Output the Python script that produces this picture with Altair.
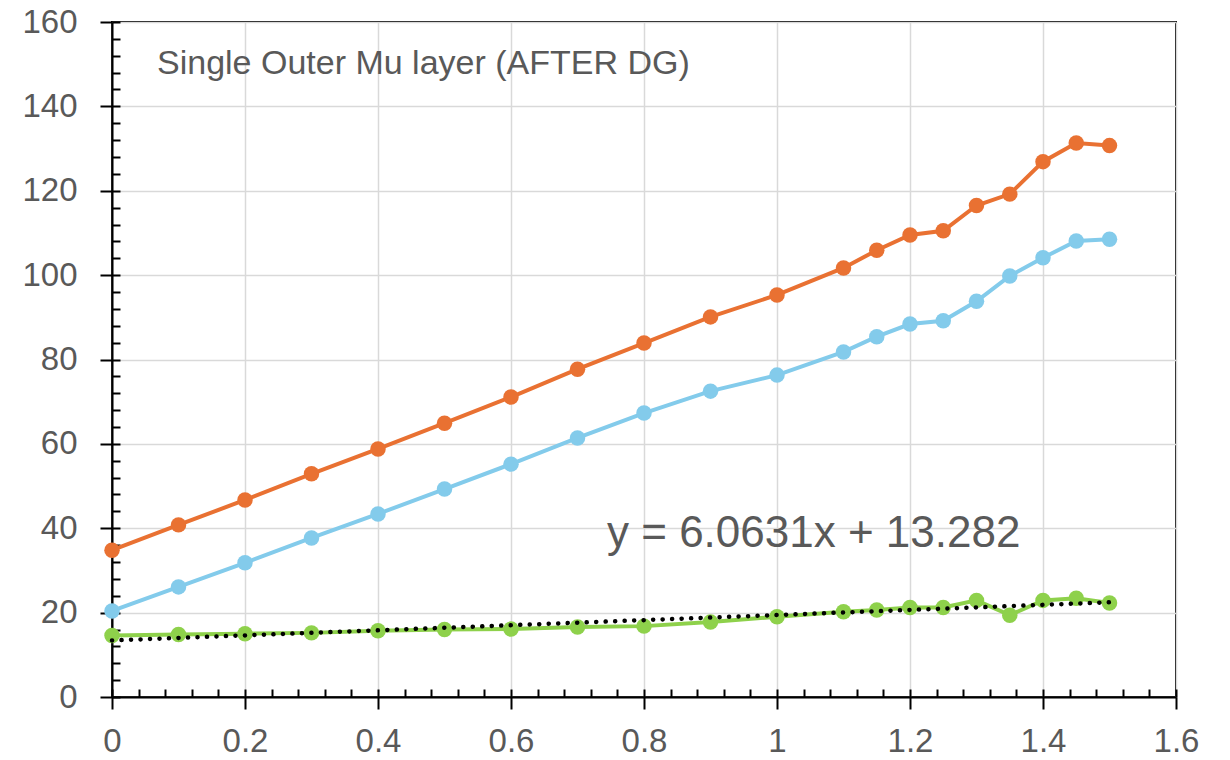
import altair as alt
import pandas as pd

# ---- data ----
x_vals = [0, 0.1, 0.2, 0.3, 0.4, 0.5, 0.6, 0.7, 0.8, 0.9, 1.0,
          1.1, 1.15, 1.2, 1.25, 1.3, 1.35, 1.4, 1.45, 1.5]
orange_vals = [34.8, 40.8, 46.7, 52.9, 58.8, 64.9, 71.1, 77.7, 83.9, 90.1, 95.3,
               101.7, 105.9, 109.5, 110.5, 116.5, 119.2, 126.9, 131.3, 130.7]
blue_vals = [20.4, 26.1, 31.8, 37.7, 43.4, 49.3, 55.2, 61.4, 67.3, 72.5, 76.3,
             81.8, 85.4, 88.4, 89.2, 93.8, 99.8, 104.1, 108.1, 108.5]
green_vals = [14.6, 14.8, 15.0, 15.2, 15.7, 16.0, 16.1, 16.6, 16.8, 17.8, 19.0,
              20.2, 20.6, 21.2, 21.2, 22.9, 19.4, 22.9, 23.4, 22.3]

series_names = ["Series1", "Series2", "Series3"]
series_colors = ["#E97132", "#83CBEB", "#8ED14B"]

x_ticks = [0, 0.2, 0.4, 0.6, 0.8, 1, 1.2, 1.4, 1.6]
y_ticks = [0, 20, 40, 60, 80, 100, 120, 140, 160]
x_minor = [round(i * 0.04, 2) for i in range(41)]
y_minor = [i * 4 for i in range(41)]

title_text = "Single Outer Mu layer (AFTER DG)"
equation_text = "y = 6.0631x + 13.282"

rows = []
for name, vals in zip(series_names, [orange_vals, blue_vals, green_vals]):
    for xv, yv in zip(x_vals, vals):
        rows.append({"x": xv, "y": yv, "series": name})
df = pd.DataFrame(rows)

W, H = 1064, 675
GRAY = "#595959"
FONT = "Liberation Sans"

x_scale = alt.Scale(domain=[0, 1.6], nice=False, zero=False)
y_scale = alt.Scale(domain=[0, 160], nice=False, zero=False)
color_scale = alt.Scale(domain=series_names, range=series_colors)

x_axis = alt.Axis(values=x_ticks, format="~g", title=None, tickSize=12, tickWidth=2,
                  tickColor="black", domainColor="black", domainWidth=2,
                  labelFontSize=33, labelFont=FONT, labelColor=GRAY, labelPadding=16,
                  labelFlush=False, labelOverlap=False,
                  grid=True, gridColor="#d9d9d9", gridWidth=1.5)
y_axis = alt.Axis(values=y_ticks, title=None, tickSize=12, tickWidth=2,
                  tickColor="black", domainColor="black", domainWidth=2,
                  labelFontSize=33, labelFont=FONT, labelColor=GRAY, labelPadding=23,
                  labelOverlap=False,
                  grid=True, gridColor="#d9d9d9", gridWidth=1.5)

x_minor_axis = alt.Axis(orient="top", offset=-H, values=x_minor, title=None, labels=False,
                        domain=False, grid=False, tickSize=8, tickWidth=2, tickColor="black")
y_minor_axis = alt.Axis(orient="right", offset=-W, values=y_minor, title=None, labels=False,
                        domain=False, grid=False, tickSize=8, tickWidth=2, tickColor="black")

base = alt.Chart(df)

lines = base.mark_line(strokeWidth=4).encode(
    x=alt.X("x:Q", scale=x_scale, axis=x_axis),
    y=alt.Y("y:Q", scale=y_scale, axis=y_axis),
    color=alt.Color("series:N", scale=color_scale, legend=None),
    detail="series:N",
)

points = base.mark_circle(size=240, opacity=1).encode(
    x=alt.X("x:Q", scale=x_scale, axis=None),
    y=alt.Y("y:Q", scale=y_scale, axis=None),
    color=alt.Color("series:N", scale=color_scale, legend=None),
)

minor = base.mark_point(opacity=0).encode(
    x=alt.X("x:Q", scale=x_scale, axis=x_minor_axis),
    y=alt.Y("y:Q", scale=y_scale, axis=y_minor_axis),
)

trend = base.transform_filter(
    alt.datum.series == "Series3"
).transform_regression(
    "x", "y", method="linear", extent=[0, 1.5]
).mark_line(color="black", strokeWidth=4.5, strokeDash=[0.1, 9.4], strokeCap="round").encode(
    x=alt.X("x:Q", scale=x_scale, axis=None),
    y=alt.Y("y:Q", scale=y_scale, axis=None),
)

title = alt.Chart(pd.DataFrame({"t": [title_text]})).mark_text(
    align="left", baseline="alphabetic", fontSize=34, font=FONT, color=GRAY
).encode(x=alt.value(45), y=alt.value(52), text="t:N")

equation = alt.Chart(pd.DataFrame({"t": [equation_text]})).mark_text(
    align="left", baseline="alphabetic", fontSize=44, font=FONT, color=GRAY
).encode(x=alt.value(495), y=alt.value(525), text="t:N")

chart = alt.layer(lines, points, minor, trend, title, equation).resolve_axis(
    x="independent", y="independent"
).properties(
    width=W, height=H,
    autosize=alt.AutoSizeParams(type="none"),
    padding={"left": 112, "top": 22, "right": 54, "bottom": 63},
    background="white",
).configure_view(stroke="black", strokeWidth=2)

chart.save("out.html", embed_options={"renderer": "svg", "actions": False})
